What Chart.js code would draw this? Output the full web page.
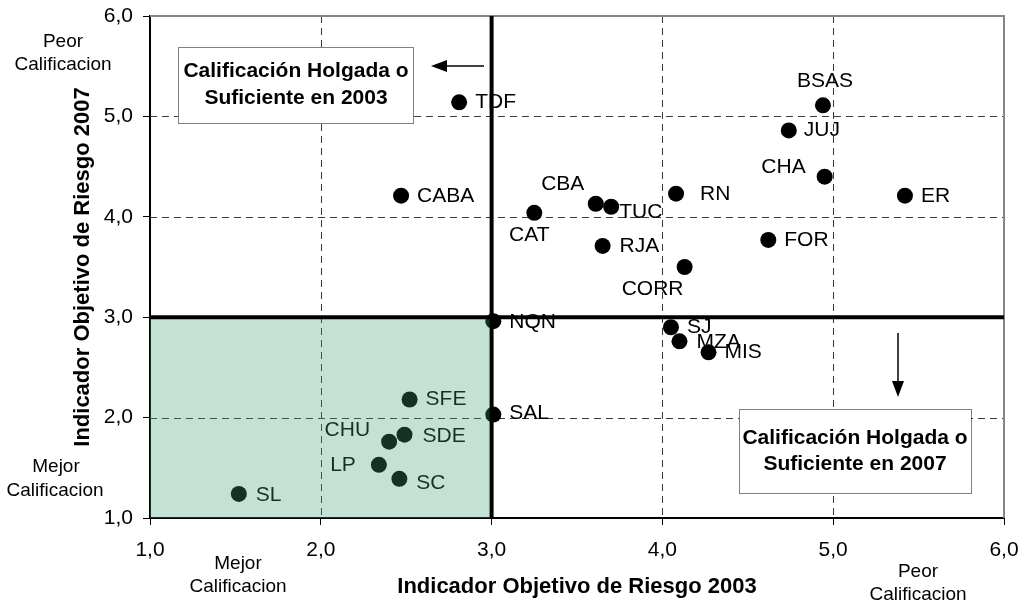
<!DOCTYPE html>
<html>
<head>
<meta charset="utf-8">
<script src="https://cdn.jsdelivr.net/npm/chart.js@4.4.1/dist/chart.umd.min.js"></script>
<style>
  body { margin: 0; background: #fff; }
  canvas { display: block; }
</style>
</head>
<body>
<canvas id="grafico" width="1030" height="604"></canvas>
<script>
// provincias y sus indicadores
const provincias = ['TDF', 'CABA', 'BSAS', 'JUJ', 'CHA', 'ER', 'RN', 'CBA', 'TUC', 'CAT', 'RJA', 'FOR',
  'CORR', 'NQN', 'SAL', 'SJ', 'MZA', 'MIS', 'SFE', 'SDE', 'CHU', 'LP', 'SC', 'SL'];
const riesgo2003 = [2.81, 2.47, 4.94, 4.74, 4.95, 5.42, 4.08, 3.61, 3.70, 3.25, 3.65, 4.62,
  4.13, 3.01, 3.01, 4.05, 4.10, 4.27, 2.52, 2.49, 2.40, 2.34, 2.46, 1.52];
const riesgo2007 = [5.14, 4.21, 5.11, 4.86, 4.40, 4.21, 4.23, 4.13, 4.10, 4.04, 3.71, 3.77,
  3.50, 2.96, 2.03, 2.90, 2.76, 2.65, 2.18, 1.83, 1.76, 1.53, 1.39, 1.24];
const ejeTicks = ['1,0', '2,0', '3,0', '4,0', '5,0', '6,0'];
const umbral = 3;

// donde va cada etiqueta respecto del punto [dx, dy, alineacion]
const posEtiquetas = [
  [16, 0, 'left'], [16, 0, 'left'], [2, -24, 'center'], [15, 0, 'left'], [-19, -9, 'right'],
  [16, 0, 'left'], [24, 0, 'left'], [-33, -20, 'center'], [8, 5, 'left'], [-5, 22, 'center'],
  [17, 0, 'left'], [16, 0, 'left'], [-32, 22, 'center'], [16, 1, 'left'], [16, -1, 'left'],
  [16, 0, 'left'], [17, 1, 'left'], [16, 0, 'left'], [16, 0, 'left'], [18, 2, 'left'],
  [-19, -11, 'right'], [-23, 0, 'right'], [17, 4, 'left'], [17, 1, 'left']
];

const fuente = 'Arial, "Liberation Sans", sans-serif';

const puntos = provincias.map((p, i) => ({ x: riesgo2003[i], y: riesgo2007[i] }));

const extras = {
  id: 'extras',
  beforeDatasetsDraw(chart) {
    const { ctx, chartArea: a, scales: { x, y } } = chart;
    ctx.save();
    ctx.strokeStyle = '#3a3a3a';
    ctx.lineWidth = 1;
    ctx.setLineDash([7, 5]);
    x.ticks.forEach(t => {
      if (t.value <= 1 || t.value >= 6) return;
      const px = Math.round(x.getPixelForValue(t.value)) + 0.5;
      ctx.beginPath(); ctx.moveTo(px, a.top); ctx.lineTo(px, a.bottom); ctx.stroke();
    });
    y.ticks.forEach(t => {
      if (t.value <= 1 || t.value >= 6) return;
      const py = Math.round(y.getPixelForValue(t.value)) + 0.5;
      ctx.beginPath(); ctx.moveTo(a.left, py); ctx.lineTo(a.right, py); ctx.stroke();
    });
    ctx.setLineDash([]);
    ctx.strokeStyle = '#868686';
    ctx.lineWidth = 2;
    ctx.beginPath();
    ctx.moveTo(a.left, a.top); ctx.lineTo(a.right, a.top); ctx.lineTo(a.right, a.bottom);
    ctx.stroke();
    ctx.restore();
  },
  afterDatasetDraw(chart, args) {
    if (args.index !== 0) return;
    const { ctx, scales: { x, y } } = chart;
    const meta = chart.getDatasetMeta(0);
    ctx.save();
    ctx.font = '21px ' + fuente;
    ctx.fillStyle = '#000';
    ctx.textBaseline = 'middle';
    meta.data.forEach((el, i) => {
      const [dx, dy, al] = posEtiquetas[i];
      ctx.textAlign = al;
      ctx.fillText(provincias[i], el.x + dx, el.y + dy);
    });
    // zona verde (mejor calificacion en ambos años)
    const x0 = x.getPixelForValue(1), x1 = x.getPixelForValue(umbral);
    const y0 = y.getPixelForValue(umbral), y1 = y.getPixelForValue(1);
    ctx.fillStyle = 'rgba(65,161,113,0.31)';
    ctx.fillRect(x0, y0, x1 - x0, y1 - y0);
    ctx.restore();
  },
  afterDraw(chart) {
    const { ctx } = chart;
    ctx.save();
    // cajas de texto
    const cajas = [
      { r: [178, 47, 235, 76], cx: 296, l: [71, 98], t: ['Calificación Holgada o', 'Suficiente en 2003'] },
      { r: [739, 409, 232, 84], cx: 855, l: [438, 464], t: ['Calificación Holgada o', 'Suficiente en 2007'] }
    ];
    cajas.forEach(c => {
      ctx.fillStyle = '#fff';
      ctx.fillRect(c.r[0], c.r[1], c.r[2], c.r[3]);
      ctx.strokeStyle = '#000';
      ctx.lineWidth = 1;
      ctx.setLineDash([1, 1]);
      ctx.strokeRect(c.r[0] + 0.5, c.r[1] + 0.5, c.r[2], c.r[3]);
      ctx.setLineDash([]);
      ctx.fillStyle = '#000';
      ctx.font = 'bold 21px ' + fuente;
      ctx.textAlign = 'center';
      ctx.textBaseline = 'middle';
      c.t.forEach((s, k) => ctx.fillText(s, c.cx, c.l[k]));
    });
    // flechas
    ctx.strokeStyle = '#000';
    ctx.fillStyle = '#000';
    ctx.lineWidth = 1.5;
    ctx.beginPath(); ctx.moveTo(484, 66); ctx.lineTo(440, 66); ctx.stroke();
    ctx.beginPath(); ctx.moveTo(431, 66); ctx.lineTo(447, 60); ctx.lineTo(447, 72); ctx.closePath(); ctx.fill();
    ctx.beginPath(); ctx.moveTo(898, 333); ctx.lineTo(898, 388); ctx.stroke();
    ctx.beginPath(); ctx.moveTo(898, 397); ctx.lineTo(892, 381); ctx.lineTo(904, 381); ctx.closePath(); ctx.fill();
    // textos de referencia
    ctx.font = '19px ' + fuente;
    ctx.textAlign = 'center';
    ctx.textBaseline = 'middle';
    const notas = [
      ['Peor', 63, 42], ['Calificacion', 63, 65],
      ['Mejor', 56, 467], ['Calificacion', 55, 491],
      ['Mejor', 238, 564], ['Calificacion', 238, 587],
      ['Peor', 918, 572], ['Calificacion', 918, 595]
    ];
    notas.forEach(n => ctx.fillText(n[0], n[1], n[2]));
    ctx.restore();
  }
};

new Chart(document.getElementById('grafico'), {
  type: 'scatter',
  data: {
    datasets: [
      {
        data: puntos,
        order: 2,
        backgroundColor: '#000',
        borderWidth: 0,
        pointRadius: 8,
        pointHoverRadius: 8
      },
      {
        type: 'line',
        data: [{ x: umbral, y: 1 }, { x: umbral, y: 6 }],
        order: 1,
        borderColor: '#000',
        borderWidth: 4,
        pointRadius: 0,
        borderCapStyle: 'square'
      },
      {
        type: 'line',
        data: [{ x: 1, y: umbral }, { x: 6, y: umbral }],
        order: 1,
        borderColor: '#000',
        borderWidth: 4,
        pointRadius: 0
      }
    ]
  },
  options: {
    responsive: false,
    animation: false,
    events: [],
    layout: { padding: { top: 16, right: 26, left: 0, bottom: 0 } },
    plugins: { legend: { display: false }, tooltip: { enabled: false } },
    scales: {
      x: {
        type: 'linear',
        min: 1,
        max: 6,
        z: 1,
        afterFit: s => { s.height = 86; s.paddingLeft = 0; s.paddingRight = 0; },
        afterBuildTicks: s => { s.ticks = ejeTicks.map((t, i) => ({ value: i + 1 })); },
        ticks: {
          callback: (v, i) => ejeTicks[i],
          color: '#000',
          font: { family: fuente, size: 21 },
          padding: 13,
          maxRotation: 0
        },
        grid: { drawOnChartArea: false, color: '#000', tickLength: 7 },
        border: { color: '#000', width: 2 },
        title: {
          display: true,
          text: 'Indicador Objetivo de Riesgo 2003',
          color: '#000',
          font: { family: fuente, size: 22, weight: 'bold' },
          padding: { top: 0, bottom: 4 }
        }
      },
      y: {
        type: 'linear',
        min: 1,
        max: 6,
        z: 1,
        afterFit: s => { s.width = 150; s.paddingTop = 0; s.paddingBottom = 0; },
        afterBuildTicks: s => { s.ticks = ejeTicks.map((t, i) => ({ value: i + 1 })); },
        ticks: {
          callback: (v, i) => ejeTicks[i],
          color: '#000',
          font: { family: fuente, size: 21 },
          padding: 10
        },
        grid: { drawOnChartArea: false, color: '#000', tickLength: 7 },
        border: { color: '#000', width: 2 },
        title: {
          display: true,
          text: 'Indicador Objetivo de Riesgo 2007',
          color: '#000',
          font: { family: fuente, size: 22, weight: 'bold' },
          padding: { top: 70, bottom: 0 }
        }
      }
    }
  },
  plugins: [extras]
});
</script>
</body>
</html>
